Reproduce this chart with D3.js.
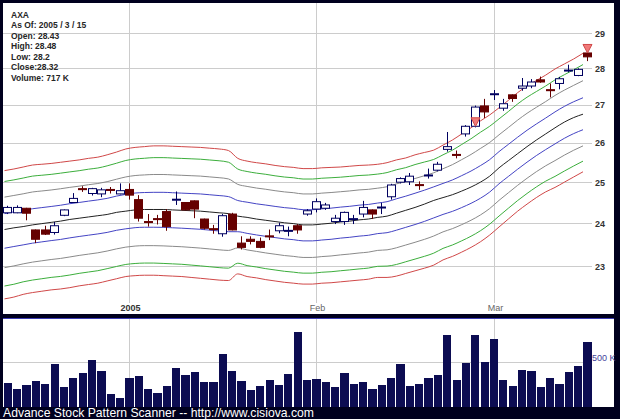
<!DOCTYPE html>
<html><head><meta charset="utf-8">
<script src="https://cdn.jsdelivr.net/npm/d3@7"></script>
<style>html,body{margin:0;padding:0;background:#00001e;}svg{display:block}</style>
</head><body><svg id="c" width="620" height="419"></svg>
<script>
// ---------- DATA ----------
const dates = ["2004-12-14","2004-12-15","2004-12-16","2004-12-17","2004-12-20","2004-12-21","2004-12-22","2004-12-23","2004-12-27","2004-12-28","2004-12-29","2004-12-30","2004-12-31",
"2005-01-03","2005-01-04","2005-01-05","2005-01-06","2005-01-07","2005-01-10","2005-01-11","2005-01-12","2005-01-13","2005-01-14","2005-01-18","2005-01-19","2005-01-20","2005-01-21","2005-01-24","2005-01-25","2005-01-26","2005-01-27","2005-01-28","2005-01-31",
"2005-02-01","2005-02-02","2005-02-03","2005-02-04","2005-02-07","2005-02-08","2005-02-09","2005-02-10","2005-02-11","2005-02-14","2005-02-15","2005-02-16","2005-02-17","2005-02-18","2005-02-22","2005-02-23","2005-02-24","2005-02-25","2005-02-28",
"2005-03-01","2005-03-02","2005-03-03","2005-03-04","2005-03-07","2005-03-08","2005-03-09","2005-03-10","2005-03-11","2005-03-14","2005-03-15"];
const opens  = [24.25,24.25,24.36,23.84,23.84,23.78,24.19,24.50,24.84,24.72,24.71,24.82,24.71,24.82,24.57,24.04,24.11,24.28,24.56,24.50,24.54,24.10,23.87,23.75,24.22,23.53,23.62,23.57,23.70,23.82,23.81,23.94,24.22,24.34,24.36,24.04,24.04,24.09,24.22,24.32,24.37,24.64,25.00,25.01,24.94,25.16,25.30,25.83,25.70,26.23,26.43,26.97,27.28,26.91,27.27,27.45,27.51,27.68,27.41,27.58,27.93,27.80,28.43];
const highs  = [24.42,24.43,24.37,23.85,23.94,24.03,24.33,24.73,24.90,24.86,24.86,24.88,24.97,24.97,24.68,24.22,24.20,24.34,24.77,24.51,24.55,24.11,23.96,24.22,24.25,23.69,23.69,23.66,23.85,24.01,23.92,23.98,24.34,24.60,24.49,24.20,24.28,24.20,24.54,24.33,24.49,24.96,25.12,25.23,25.02,25.34,25.51,26.28,25.80,26.46,26.98,27.16,27.40,27.16,27.28,27.73,27.70,27.77,27.58,27.76,28.10,28.00,28.48];
const lows   = [24.22,24.24,24.07,23.53,23.72,23.73,24.17,24.49,24.76,24.67,24.63,24.72,24.70,24.57,24.04,23.92,23.97,23.82,24.44,24.31,24.12,23.85,23.75,23.68,23.83,23.38,23.50,23.41,23.60,23.76,23.69,23.75,24.18,24.26,24.32,23.98,23.96,23.98,24.14,24.10,24.22,24.57,24.97,24.93,24.81,25.09,25.27,25.77,25.60,26.16,26.40,26.65,27.13,26.84,27.08,27.38,27.45,27.60,27.20,27.42,27.89,27.78,28.20];
const closes = [24.38,24.38,24.24,23.62,23.74,23.94,24.32,24.60,24.82,24.84,24.81,24.80,24.79,24.68,24.12,24.02,24.09,23.92,24.58,24.32,24.34,23.88,23.85,24.18,23.84,23.43,23.57,23.43,23.68,23.94,23.83,23.84,24.30,24.52,24.44,24.12,24.26,24.11,24.38,24.22,24.39,24.93,25.09,25.15,24.92,25.18,25.45,25.90,25.68,26.43,26.94,26.81,27.30,27.03,27.17,27.51,27.62,27.62,27.39,27.71,27.95,27.97,28.32];
// volume in thousands of shares
const volumes = [263,193,238,285,252,474,215,315,371,519,400,141,96,319,341,197,152,230,430,352,378,274,267,585,393,285,185,230,296,238,363,830,296,308,274,222,374,252,271,197,238,315,474,230,252,322,352,800,296,482,793,500,752,293,230,408,396,222,319,252,382,452,717];
// channel indicator: centre line and outer (red) envelope
const midLine = [23.85,23.89,23.92,23.96,23.99,24.02,24.05,24.09,24.12,24.15,24.18,24.21,24.26,24.29,24.32,24.33,24.33,24.33,24.32,24.31,24.30,24.29,24.27,24.25,24.23,24.17,24.14,24.10,24.07,24.04,24.01,23.99,23.96,23.96,23.98,24.00,24.03,24.05,24.08,24.10,24.14,24.17,24.24,24.31,24.38,24.46,24.55,24.62,24.69,24.78,24.88,25.00,25.15,25.36,25.54,25.72,25.90,26.07,26.23,26.39,26.54,26.66,26.75];
const upperBand = [25.29,25.33,25.38,25.43,25.45,25.47,25.50,25.53,25.56,25.60,25.63,25.69,25.76,25.84,25.88,25.90,25.92,25.92,25.91,25.90,25.89,25.88,25.86,25.84,25.80,25.60,25.53,25.49,25.46,25.42,25.39,25.37,25.34,25.34,25.36,25.37,25.38,25.40,25.42,25.43,25.45,25.49,25.56,25.61,25.69,25.75,25.81,25.94,26.07,26.23,26.39,26.57,26.73,26.92,27.12,27.33,27.51,27.66,27.81,27.98,28.12,28.26,28.42];
const lowerBand = [22.26,22.30,22.36,22.40,22.43,22.46,22.48,22.51,22.55,22.58,22.61,22.66,22.71,22.76,22.78,22.79,22.79,22.78,22.77,22.76,22.74,22.72,22.70,22.68,22.67,22.82,22.76,22.73,22.69,22.66,22.63,22.61,22.59,22.59,22.61,22.62,22.64,22.66,22.68,22.70,22.74,22.74,22.77,22.83,22.89,22.95,23.02,23.14,23.22,23.32,23.43,23.56,23.72,23.91,24.10,24.29,24.46,24.62,24.76,24.87,25.00,25.13,25.26];
// inner envelopes as share of the centre-to-outer distance (log space)
const innerBandShares = [0.27, 0.55, 0.815];
const signalDates = ["2005-02-25","2005-03-15"];
const signalPrices = [26.43, 28.43];
const priceTicks = [23,24,25,26,27,28,29];
const dateTicks = ["2005-01-03","2005-02-01","2005-03-01"];
const dateTickLabels = ["2005","Feb","Mar"];
const volumeTicks = [500];
const volumeTickLabels = ["500 K"];
const infoLines = ["AXA","As Of: 2005 / 3 / 15","Open: 28.43","High: 28.48","Low: 28.2","Close:28.32","Volume: 717 K"];
const footerText = "Advance Stock Pattern Scanner -- http://www.cisiova.com";

// ---------- DRAW ----------
const svg = d3.select("#c");
const FONT = "'Liberation Sans', Arial, sans-serif";
svg.append("rect").attr("width",620).attr("height",419).attr("fill","#00001e");
svg.append("rect").attr("x",3).attr("y",3).attr("width",611).attr("height",311).attr("fill","#fff");
svg.append("rect").attr("x",3).attr("y",319).attr("width",611).attr("height",88).attr("fill","#fff");
svg.append("line").attr("x1",3).attr("x2",614).attr("y1",318.5).attr("y2",318.5).attr("stroke","#3c3cb4");

const x = d3.scaleBand().domain(dates).range([3.8, 591.6]).paddingInner(0.12);
const xLine = d3.scalePoint().domain(dates).range([4.5, 583]);
const cx = d => Math.floor(x(d) + x.bandwidth()/2) + 0.5;
const y = d3.scaleLog().domain([23,29]).range([266,33]);
const yv = d3.scaleLinear().domain([0,1000]).range([406.5,316.5]);

// price grid
const grid = svg.append("g").attr("shape-rendering","crispEdges");
grid.selectAll("line.h").data(priceTicks).join("line")
  .attr("x1",3).attr("x2",592).attr("y1",d=>Math.round(y(d))+0.5).attr("y2",d=>Math.round(y(d))+0.5)
  .attr("stroke","#cccccc");
grid.selectAll("line.v").data(dateTicks).join("line")
  .attr("x1",d=>cx(d)).attr("x2",d=>cx(d)).attr("y1",3).attr("y2",303).attr("stroke","#cccccc");
svg.selectAll("text.pt").data(priceTicks).join("text")
  .attr("x",595).attr("y",d=>y(d)+3.5).text(d=>d)
  .attr("font-family",FONT).attr("font-size",9).attr("font-weight","bold").attr("fill","#333");
svg.selectAll("text.dt").data(dateTicks).join("text")
  .attr("x",d=>cx(d)+1).attr("y",311).attr("text-anchor","middle").text((d,i)=>dateTickLabels[i])
  .attr("font-family",FONT).attr("font-size",9)
  .attr("font-weight",(d,i)=>i===0?"bold":"normal").attr("fill",(d,i)=>i===0?"#333":"#666");

// bands
const idx = d3.range(dates.length);
function bandSeries(outer, share){
  return idx.map(i => midLine[i]*Math.exp(share*Math.log(outer[i]/midLine[i])));
}
const bandDefs = [
  {vals: upperBand, color:"#d04848"},{vals: lowerBand, color:"#d04848"},
  {vals: bandSeries(upperBand,innerBandShares[2]), color:"#3cae3c"},{vals: bandSeries(lowerBand,innerBandShares[2]), color:"#3cae3c"},
  {vals: bandSeries(upperBand,innerBandShares[1]), color:"#8a8a8a"},{vals: bandSeries(lowerBand,innerBandShares[1]), color:"#8a8a8a"},
  {vals: bandSeries(upperBand,innerBandShares[0]), color:"#4444c4"},{vals: bandSeries(lowerBand,innerBandShares[0]), color:"#4444c4"},
  {vals: midLine, color:"#222"}
];
const line = d3.line().x((v,i)=>xLine(dates[i])).y(v=>y(v)).curve(d3.curveMonotoneX);
svg.append("g").selectAll("path").data(bandDefs).join("path")
  .attr("d",d=>line(d.vals)).attr("fill","none").attr("stroke",d=>d.color).attr("stroke-width",1);

// candles
const UP="#000060", DN="#660000";
const cg = svg.append("g");
idx.forEach(i=>{
  const d = dates[i], c = cx(d), up = closes[i] >= opens[i], col = up?UP:DN;
  cg.append("line").attr("x1",c).attr("x2",c).attr("y1",y(highs[i])).attr("y2",y(lows[i]))
    .attr("stroke",col).attr("stroke-width",1);
  const top = y(Math.max(opens[i],closes[i])), bot = y(Math.min(opens[i],closes[i]));
  const h = Math.max(1, bot-top);
  cg.append("rect").attr("x",c-4).attr("y",top).attr("width",8).attr("height",h)
    .attr("fill",up?"#fff":DN).attr("stroke",col).attr("stroke-width",1);
});

// signal markers (down triangles)
svg.selectAll("path.sig").data(signalDates).join("path")
  .attr("d",(d,i)=>{const c=cx(d), yy=y(signalPrices[i]); return `M${c-4.5},${yy-8.5}L${c+4.5},${yy-8.5}L${c},${yy}Z`;})
  .attr("fill","#f07a7a").attr("stroke","#d04848").attr("stroke-width",1);

// info text
svg.selectAll("text.info").data(infoLines).join("text")
  .attr("x",11).attr("y",(d,i)=>17.5+i*10.5).text(d=>d)
  .attr("font-family",FONT).attr("font-size",8.5).attr("font-weight","bold").attr("fill","#262626");

// volume panel
const vg = svg.append("g").attr("shape-rendering","crispEdges");
vg.selectAll("line.vh").data(volumeTicks).join("line")
  .attr("x1",3).attr("x2",590).attr("y1",d=>Math.round(yv(d))+0.5).attr("y2",d=>Math.round(yv(d))+0.5).attr("stroke","#cccccc");
vg.selectAll("line.vv").data(dateTicks).join("line")
  .attr("x1",d=>cx(d)).attr("x2",d=>cx(d)).attr("y1",319).attr("y2",407).attr("stroke","#cccccc");
vg.selectAll("rect.vol").data(idx).join("rect")
  .attr("x",i=>x(dates[i])).attr("width",x.bandwidth())
  .attr("y",i=>yv(volumes[i])).attr("height",i=>yv(0)-yv(volumes[i]))
  .attr("fill","#0c0c52");
svg.selectAll("text.vt").data(volumeTicks).join("text")
  .attr("x",592).attr("y",d=>yv(d)-0.5).text((d,i)=>volumeTickLabels[i])
  .attr("font-family",FONT).attr("font-size",9).attr("fill","#44449a");

svg.append("text").attr("x",3).attr("y",417).text(footerText)
  .attr("font-family",FONT).attr("font-size",13).attr("fill","#fff")
  .attr("textLength",311).attr("lengthAdjust","spacingAndGlyphs");
</script></body></html>
